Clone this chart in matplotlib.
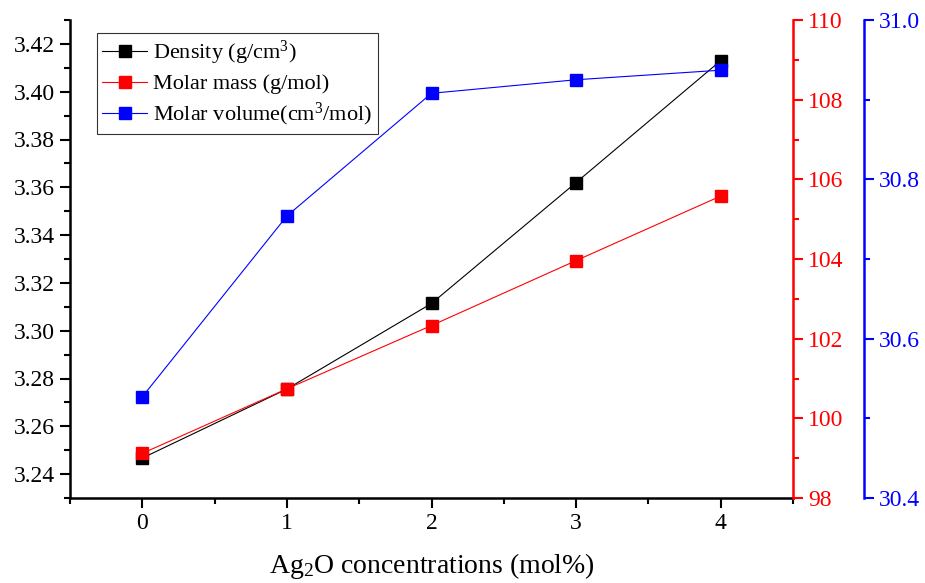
import numpy as np
import matplotlib
matplotlib.use("Agg")
import matplotlib.pyplot as plt
from matplotlib.ticker import MultipleLocator, FormatStrFormatter

plt.rcParams["font.family"] = ["Liberation Serif", "DejaVu Serif"]
plt.rcParams["mathtext.fontset"] = "custom"
plt.rcParams["mathtext.rm"] = "Liberation Serif"
plt.rcParams["mathtext.it"] = "Liberation Serif:italic"

# Ag2O content (mol%)
conc = [0, 1, 2, 3, 4]
density = [3.2467, 3.2756, 3.3114, 3.3620, 3.4130]      # g/cm3
molar_mass = [99.12, 100.74, 102.33, 103.96, 105.58]    # g/mol
molar_volume = [30.527, 30.754, 30.908, 30.925, 30.937]  # cm3/mol

fig = plt.figure(figsize=(9.25, 5.83), dpi=100)
ax = fig.add_axes([70 / 925, 85 / 583, 723 / 925, 478 / 583])
ax_m = ax.twinx()
ax_v = ax.twinx()
ax_v.spines["right"].set_position(("axes", 794 / 723))

ms = 8.5
l1, = ax.plot(conc, density, "-s", color="black", lw=0.8, ms=ms,
              label=r"Density (g/cm$^{3}$)")
l2, = ax_m.plot(conc, molar_mass, "-s", color="red", lw=0.8, ms=ms,
                label="Molar mass (g/mol)")
l3, = ax_v.plot(conc, molar_volume, "-s", color="blue", lw=0.8, ms=ms,
                label=r"Molar volume(cm$^{3}$/mol)")

ax.set_xlim(-0.5, 4.5)
ax.set_ylim(3.23, 3.43)
ax_m.set_ylim(98, 110)
ax_v.set_ylim(30.4, 31.0)

ax.xaxis.set_major_locator(MultipleLocator(1))
ax.xaxis.set_minor_locator(MultipleLocator(0.5))
ax.yaxis.set_major_locator(MultipleLocator(0.02))
ax.yaxis.set_minor_locator(MultipleLocator(0.01))
ax.yaxis.set_major_formatter(FormatStrFormatter("%.2f"))
ax_m.yaxis.set_major_locator(MultipleLocator(2))
ax_m.yaxis.set_minor_locator(MultipleLocator(1))
ax_v.yaxis.set_major_locator(MultipleLocator(0.2))
ax_v.yaxis.set_minor_locator(MultipleLocator(0.1))
ax_v.yaxis.set_major_formatter(FormatStrFormatter("%.1f"))

for a in (ax, ax_m, ax_v):
    a.spines["top"].set_visible(False)
    a.tick_params(which="major", direction="out", length=7, width=1.5,
                  labelsize=17, pad=4)
    a.tick_params(which="minor", direction="out", length=4, width=1.5)

ax.spines["left"].set_linewidth(1.8)
ax.spines["bottom"].set_linewidth(1.8)
ax.spines["right"].set_visible(False)
ax_m.spines["left"].set_visible(False)
ax_m.spines["bottom"].set_visible(False)
ax_v.spines["left"].set_visible(False)
ax_v.spines["bottom"].set_visible(False)

for a, c in ((ax_m, "red"), (ax_v, "blue")):
    a.spines["right"].set_color(c)
    a.spines["right"].set_linewidth(1.8)
    a.tick_params(axis="y", which="both", colors=c)

ax.set_xlabel(r"Ag$_{2}$O concentrations (mol%)", fontsize=20, labelpad=12)

leg = ax.legend(handles=[l1, l2, l3], loc="upper left",
                bbox_to_anchor=(0.037, 0.972), fontsize=16,
                frameon=True, fancybox=False, edgecolor="black",
                borderpad=0.25, labelspacing=0.3, handlelength=2.0,
                handletextpad=0.3, borderaxespad=0)
leg.get_frame().set_linewidth(0.8)

fig.savefig("out.png", dpi=100)
